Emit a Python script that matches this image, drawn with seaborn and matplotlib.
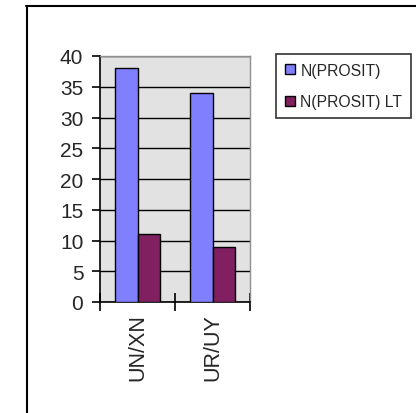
import matplotlib
matplotlib.use("Agg")
import matplotlib.pyplot as plt
import seaborn as sns
import pandas as pd
from matplotlib.lines import Line2D

categories = ["UN/XN", "UR/UY"]
series_names = ["N(PROSIT)", "N(PROSIT) LT"]
prosit = [38, 34]
prosit_lt = [11, 9]
y_ticks = [0, 5, 10, 15, 20, 25, 30, 35, 40]

df = pd.DataFrame({
    "category": categories * 2,
    "series": [series_names[0]] * 2 + [series_names[1]] * 2,
    "value": prosit + prosit_lt,
})

sns.set_style("white")
plt.rcParams["font.family"] = ["Liberation Sans", "DejaVu Sans"]

fig = plt.figure(figsize=(4.16, 4.14), dpi=100)
ax = fig.add_axes([100 / 416, 1 - 303 / 414, 150 / 416, 246 / 414])

sns.barplot(data=df, x="category", y="value", hue="series",
            palette=["#8080FF", "#802060"], width=0.59, gap=0,
            edgecolor="black", linewidth=1.0, saturation=1,
            legend=False, ax=ax, zorder=3)

ax.set_facecolor("#E2E2E2")
ax.set_xlim(-0.5, 1.5)
ax.set_ylim(0, 40)
ax.set_yticks(y_ticks)
ax.yaxis.grid(True, color="black", linewidth=1.0, zorder=1)
ax.set_axisbelow(True)
ax.set_xlabel("")
ax.set_ylabel("")

for side in ("top", "right"):
    ax.spines[side].set_color("#909090")
    ax.spines[side].set_linewidth(1.0)
for side in ("left", "bottom"):
    ax.spines[side].set_color("black")
    ax.spines[side].set_linewidth(1.2)

ax.tick_params(axis="y", direction="out", length=6, width=1.2, color="black",
               labelsize=15, pad=6, left=True)
ax.set_xticks([0, 1])
ax.set_xticklabels(categories, rotation=90, fontsize=15.5)
ax.tick_params(axis="x", which="major", length=0, pad=8)
ax.set_xticks([-0.5, 0.5, 1.5], minor=True)
ax.tick_params(axis="x", which="minor", direction="inout", length=13,
               width=1.2, color="black", bottom=True)

handles = [Line2D([0], [0], marker="s", linestyle="none", markersize=6.5,
                  markerfacecolor=c, markeredgecolor="black", markeredgewidth=1.0)
           for c in ["#8080FF", "#802060"]]
leg = fig.legend(handles, series_names, loc="upper left",
                 bbox_to_anchor=(276 / 416, 1 - 55 / 414),
                 fontsize=11.3, frameon=True, fancybox=False,
                 handlelength=0.7, handletextpad=0.3, labelspacing=1.05,
                 borderpad=0.55, borderaxespad=0)
leg.get_frame().set_edgecolor("black")
leg.get_frame().set_linewidth(1.2)

# outer chart frame (top and left edges)
fig.add_artist(Line2D([26 / 416, 1.0], [1 - 7 / 414, 1 - 7 / 414],
                      color="black", linewidth=1.5, transform=fig.transFigure))
fig.add_artist(Line2D([26.5 / 416, 26.5 / 416], [0.0, 1 - 7 / 414],
                      color="black", linewidth=1.5, transform=fig.transFigure))

fig.savefig("out.png", dpi=100, facecolor="white")
